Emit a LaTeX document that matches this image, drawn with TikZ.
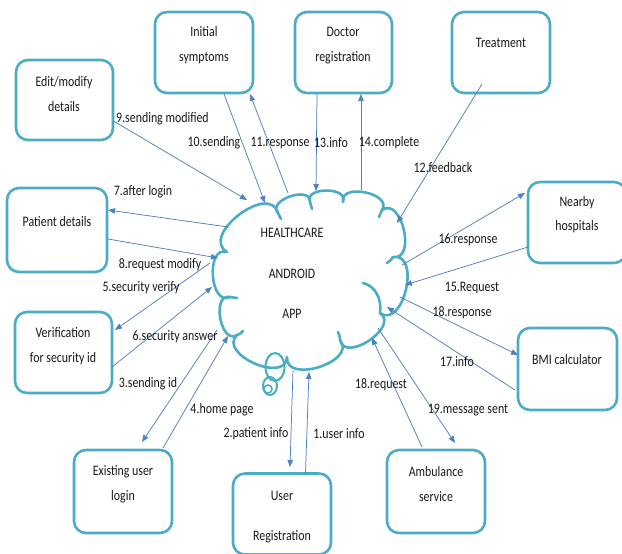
\documentclass[tikz,border=0pt]{standalone}
\usepackage{fontspec}
\newfontfamily\diafont{Carlito}[FakeStretch=0.82]
\usetikzlibrary{calc,arrows.meta}
\definecolor{boxteal}{RGB}{75,172,198}
\definecolor{arrowblue}{RGB}{79,129,189}
\definecolor{textgray}{RGB}{25,25,25}
\tikzset{
  boxnode/.style={draw=boxteal, line width=2.6pt, rounded corners=12pt, inner sep=0pt, fill=white},
  txt/.style={font=\diafont\fontsize{14.5}{25}\selectfont, text=textgray, inner sep=0pt, align=center},
  lbl/.style={font=\diafont\fontsize{14.5}{16}\selectfont, text=textgray, inner sep=0pt},
  conn/.style={draw=arrowblue, line width=0.75pt, -{Triangle[length=7pt,width=5.5pt]}},
  cloudline/.style={draw=boxteal, line width=2.6pt, line cap=round, line join=round},
}
\begin{document}
\begin{tikzpicture}[x=1pt,y=-1pt]
\useasboundingbox[fill=white] (0,0) rectangle (622,554);

% ---- boxes ----
\node[boxnode, minimum width=97pt, minimum height=80pt] (edit) at (64.5,100) {};
\node[boxnode, minimum width=98pt, minimum height=81pt] (init) at (204,52.5) {};
\node[boxnode, minimum width=97pt, minimum height=81pt] (doc) at (343.5,52.5) {};
\node[boxnode, minimum width=98pt, minimum height=81pt] (treat) at (501,52.5) {};
\node[boxnode, minimum width=100pt, minimum height=84pt] (pat) at (57,230) {};
\node[boxnode, minimum width=97pt, minimum height=81pt] (ver) at (63.5,352.5) {};
\node[boxnode, minimum width=98pt, minimum height=83pt] (exist) at (123,491.5) {};
\node[boxnode, minimum width=98pt, minimum height=81pt] (ureg) at (282,514) {};
\node[boxnode, minimum width=98pt, minimum height=83pt] (amb) at (436,491.5) {};
\node[boxnode, minimum width=98pt, minimum height=81pt] (near) at (577,222.5) {};
\node[boxnode, minimum width=99pt, minimum height=82pt] (bmi) at (567.5,369) {};

% ---- box texts ----
\node[txt] (editt) at (64,94.5) {Edit/modify\\details};
\node[txt] (initt) at (204,45.5) {Initial\\symptoms};
\node[txt] (doct) at (343,45.5) {Doctor\\registration};
\node[txt] (treatt) at (501,43) {Treatment};
\node[txt] (patt) at (57,222) {Patient details};
\node[txt] (vert) at (63,346.5) {Verification\\for security id};
\node[txt] (existt) at (123,484.5) {Existing user\\login};
\node[txt, font=\diafont\fontsize{14.5}{40}\selectfont] (uregt) at (282,517) {User\\Registration};
\node[txt] (ambt) at (436,484.5) {Ambulance\\service};
\node[txt, font=\diafont\fontsize{14.5}{24}\selectfont] (neart) at (577,215) {Nearby\\hospitals};
\node[txt] (bmit) at (567,360) {BMI calculator};

% ---- cloud ----
\coordinate (c1) at (227,252);
\coordinate (c2) at (278,213);
\coordinate (c3) at (310,202);
\coordinate (c4) at (343,202);
\coordinate (c5) at (382,210);
\coordinate (c6) at (393,257);
\coordinate (c7) at (380,313);
\coordinate (c8) at (340,340);
\coordinate (c9) at (287,357);
\coordinate (c10) at (237,335);
\coordinate (c11) at (230,297);
\def\puff#1#2{.. controls ($(#1)!0.5!112:(#2)$) and ($(#2)!0.5!-112:(#1)$) .. (#2)}
\fill[white] (c1) \puff{c1}{c2} \puff{c2}{c3} \puff{c3}{c4} \puff{c4}{c5} \puff{c5}{c6}
  \puff{c6}{c7} \puff{c7}{c8} \puff{c8}{c9} \puff{c9}{c10} \puff{c10}{c11} \puff{c11}{c1} -- cycle;
\draw[cloudline] (c1) \puff{c1}{c2} \puff{c2}{c3} \puff{c3}{c4} \puff{c4}{c5} \puff{c5}{c6}
  \puff{c6}{c7} \puff{c7}{c8} \puff{c8}{c9} \puff{c9}{c10} \puff{c10}{c11} \puff{c11}{c1};
% inner arcs of the cloud
\draw[cloudline] (363,283) .. controls (376,286) and (382,300) .. (c7);
\draw[cloudline] (c2) .. controls (279,215) .. (281,219);
\draw[cloudline] (c3) .. controls (311,205) .. (312,209);
\draw[cloudline] (c5) .. controls (381,213) .. (379,217);
\draw[cloudline] (c6) .. controls (391,260) .. (387,263);
\draw[cloudline] (c8) .. controls (340,337) .. (338,332);
\draw[cloudline] (c11) .. controls (233,297) .. (237,298);
\draw[cloudline] (c10) .. controls (240,334) .. (243,331);
% thought bubbles
\draw[boxteal, line width=2pt] (275,367) ellipse [x radius=9.5pt, y radius=14pt];
\draw[boxteal, line width=2pt] (270,386) ellipse [x radius=7pt, y radius=9pt];
\draw[boxteal, line width=1.6pt] (268,389) circle [radius=4pt];
\node[inner sep=0pt, minimum width=190pt, minimum height=180pt] (app) at (308,278) {};

% ---- cloud texts ----
\node[lbl] (appa) at (292,233) {HEALTHCARE};
\node[lbl] (appb) at (292,274) {ANDROID};
\node[lbl] (appc) at (292,314) {APP};

% ---- connectors ----
\draw[conn] ($(edit)+(49,21)$) -- ($(app)+(-61,-78)$);
\draw[conn] ($(init)+(20,41.5)$) -- ($(app)+(-43,-75)$);
\draw[conn] ($(app)+(-20,-85)$) -- ($(init)+(46,41.5)$);
\draw[conn] ($(doc)+(-26.5,41)$) -- ($(app)+(8,-87)$);
\draw[conn] ($(app)+(53,-88)$) -- ($(doc)+(17.5,41.5)$);
\draw[conn] ($(treat)+(-19,31.5)$) -- ($(app)+(89,-55)$);
\draw[conn] ($(app)+(-80,-51)$) -- ($(pat)+(51,-20)$);
\draw[conn] ($(pat)+(51,9)$) -- ($(app)+(-90,-20)$);
\draw[conn] ($(app)+(-98,-15)$) -- ($(ver)+(51.5,-22.5)$);
\draw[conn] ($(ver)+(48.5,14.5)$) -- ($(app)+(-96,9)$);
\draw[conn] ($(app)+(-91,52)$) -- ($(exist)+(19,-49.5)$);
\draw[conn] ($(exist)+(40,-43.5)$) -- ($(app)+(-80,58)$);
\draw[conn] ($(app)+(-15,92)$) -- ($(ureg)+(8,-47)$);
\draw[conn] ($(ureg)+(23.5,-41)$) -- ($(app)+(1,94)$);
\draw[conn] ($(amb)+(-14,-44.5)$) -- ($(app)+(64,60)$);
\draw[conn] ($(app)+(70,50)$) -- ($(amb)+(19,-48.5)$);
\draw[conn] ($(app)+(94,-13)$) -- ($(near)+(-52,-29.5)$);
\draw[conn] ($(near)+(-49,24.5)$) -- ($(app)+(97,7)$);
\draw[conn] ($(app)+(92,19)$) -- ($(bmi)+(-49.5,-14)$);
\draw[conn] ($(bmi)+(-52.5,21)$) -- ($(app)+(79,29)$);

% ---- connector labels ----
\node[lbl, anchor=west] (l9) at (116,119) {9.sending modified};
\node[lbl] (l10) at (214,143) {10.sending};
\node[lbl] (l11) at (280,143) {11.response};
\node[lbl] (l13) at (331,143) {13.info};
\node[lbl] (l14) at (389,143) {14.complete};
\node[lbl] (l12) at (443,168) {12.feedback};
\node[lbl] (l7) at (143,192) {7.after login};
\node[lbl] (l8) at (160,265) {8.request modify};
\node[lbl] (l5) at (141,288) {5.security verify};
\node[lbl] (l6) at (175,337) {6.security answer};
\node[lbl] (l3) at (148,384) {3.sending id};
\node[lbl] (l4) at (222,410) {4.home page};
\node[lbl] (l2) at (256,434) {2.patient info};
\node[lbl] (l1) at (339,434) {1.user info};
\node[lbl] (l18a) at (381,385) {18.request};
\node[lbl] (l19) at (468,410) {19.message sent};
\node[lbl] (l16) at (468,240) {16.response};
\node[lbl] (l15) at (472,288) {15.Request};
\node[lbl] (l18b) at (462,313) {18.response};
\node[lbl] (l17) at (457,362) {17.info};
\end{tikzpicture}
\end{document}
